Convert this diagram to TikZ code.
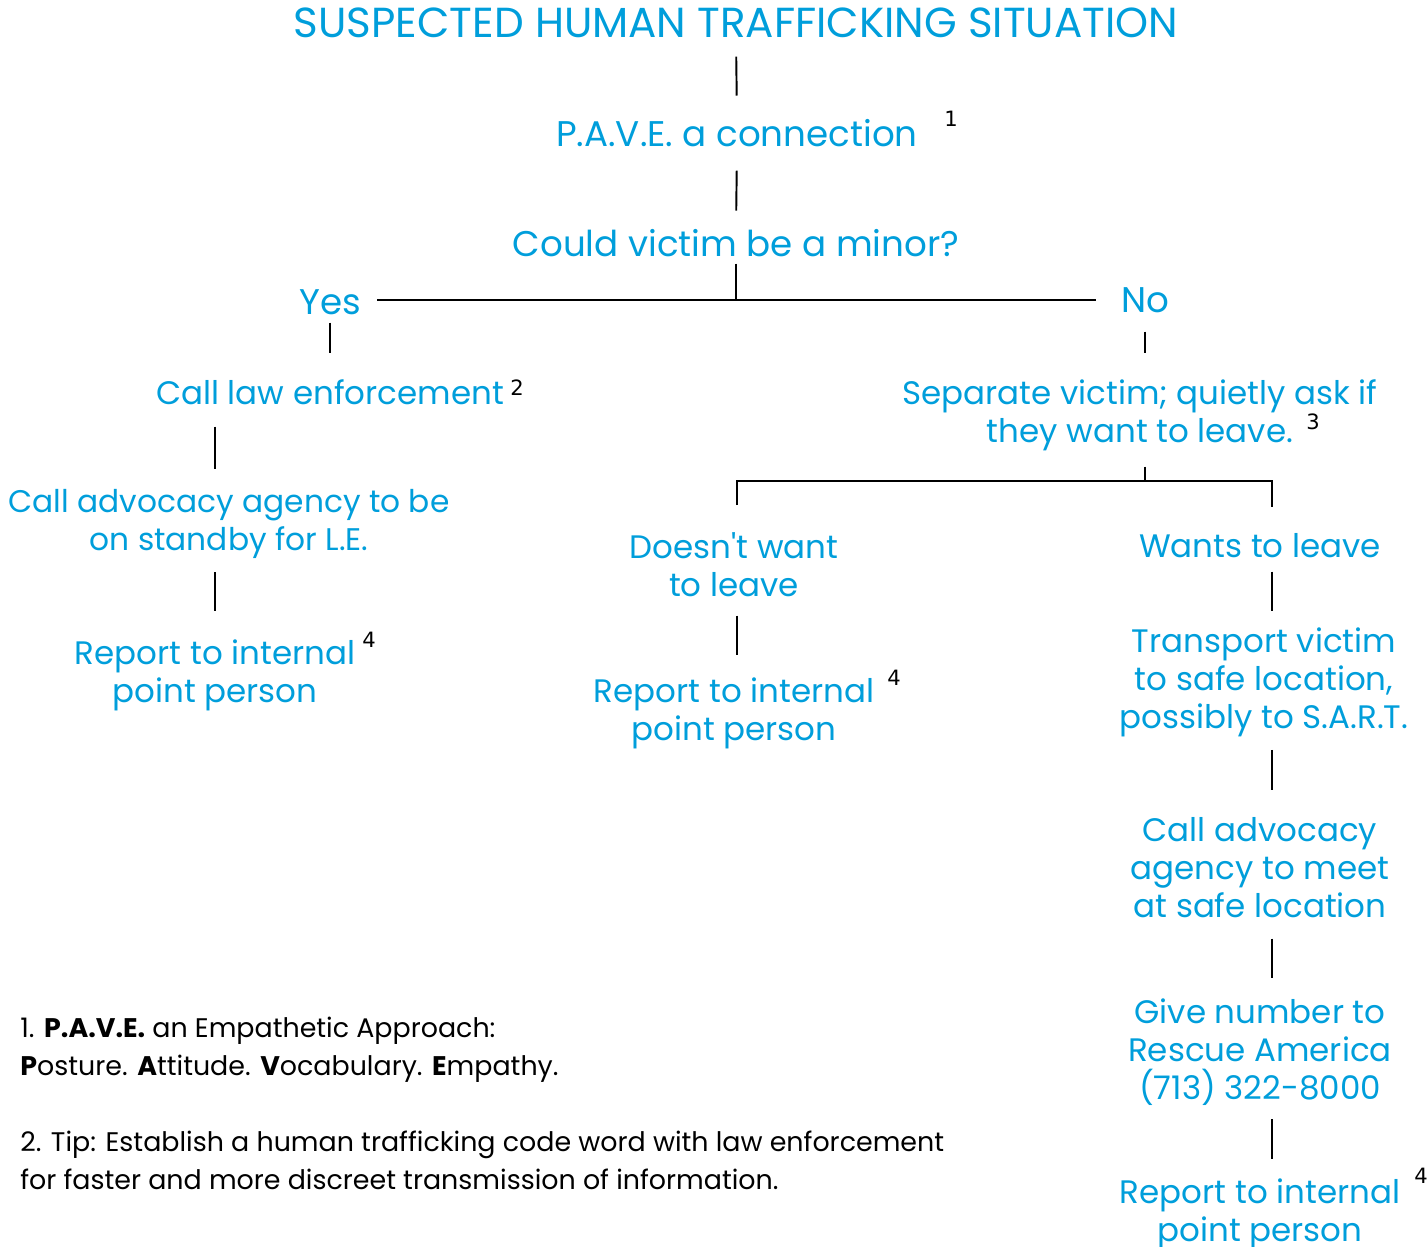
\documentclass[tikz,border=0pt]{standalone}
\usepackage{fontspec}
\setmainfont{Poppins}
\newfontfamily\supfont{DejaVu Sans}
\newdimen\unitpx \unitpx=0.02cm
\definecolor{rescueBlue}{RGB}{0,158,219}
\tikzset{
	flowText/.style={text=rescueBlue, font=\fontsize{18.5}{21.5}\selectfont, align=center, inner sep=0pt, anchor=base},
	bigText/.style={flowText, font=\fontsize{20.3}{24}\selectfont},
	headText/.style={flowText, font=\fontsize{23.9}{28}\selectfont},
	supText/.style={font=\supfont\fontsize{12}{14}\selectfont, inner sep=0pt, anchor=base},
	noteText/.style={font=\fontsize{15.3}{21.5}\selectfont, align=left, inner sep=0pt, anchor=base west},
	link/.style={line width=1.1pt}
}
\begin{document}
\begin{tikzpicture}[x=0.02cm, y=-0.02cm]
				\useasboundingbox (0,0) rectangle (1427,1247);
				\node[headText] (title) at (736,38) {SUSPECTED HUMAN TRAFFICKING SITUATION};
				\node[bigText] (pave) at (737,147) {P.A.V.E. a connection};
				\node[supText] (supPave) at (951,127) {1};
				\node[bigText] (minor) at (736,256) {Could victim be a minor?};
				\node[bigText] (yes) at (330,314) {Yes};
				\node[bigText] (no) at (1145,312) {No};
				
				% yes branch
				\node[flowText] (callLaw) at (330,404) {Call law enforcement};
				\node[supText] (supLaw) at (517,395) {2};
				\node[flowText, font=\fontsize{17.8}{21.5}\selectfont] (advStandby) at (229,550) {Call advocacy agency to be\\on standby for L.E.};
				\node[flowText] (reportYes) at (215,702) {Report to internal\\point person};
				\node[supText] (supYes) at (369,647) {4};
				
				% no branch
				\node[flowText] (separate) at (1140,442) {Separate victim; quietly ask if\\they want to leave.};
				\node[supText] (supSeparate) at (1313,429) {3};
				\coordinate (fork) at (1145,481);
				\coordinate (rightCol) at (1272,0);
				\node[flowText] (doesntLeave) at (734,596) {Doesn\textquotesingle t want\\to leave};
				\node[flowText] (reportStay) at (734,740) {Report to internal\\point person};
				\node[supText] (supStay) at (894,685) {4};
				\node[flowText] (wantsLeave) at (1260,557) {Wants to leave};
				\node[flowText] (transport) at (1264,728) {Transport victim\\to safe location,\\possibly to S.A.R.T.};
				\node[flowText] (advMeet) at (1260,917) {Call advocacy\\agency to meet\\at safe location};
				\node[flowText] (giveNumber) at (1260,1099) {Give number to\\Rescue America\\(713) 322-8000};
				\node[flowText] (reportLeave) at (1260,1241) {Report to internal\\point person};
				\node[supText] (supLeave) at (1421,1183) {4};
				
				% footnotes
				\node[noteText] (noteOne) at (20,1075) {1. \textbf{P.A.V.E.} an Empathetic Approach:\\\textbf{P}osture. \textbf{A}ttitude. \textbf{V}ocabulary. \textbf{E}mpathy.};
				\node[noteText] (noteTwo) at (20,1189) {2. Tip: Establish a human trafficking code word with law enforcement\\for faster and more discreet transmission of information.};
				
				\draw[link, shorten <=18\unitpx, shorten >=24\unitpx] (title.south) -- (pave.north);
				\draw[link, shorten <=23\unitpx, shorten >=18\unitpx] (pave.south) -- (minor.north);
				\draw[link, shorten <=7\unitpx] (minor.south) -- (minor.south |- no.west);
				\draw[link, shorten <=25\unitpx, shorten >=16\unitpx] (no.west) -- (no.west -| yes.east);
				\draw[link, shorten <=8\unitpx, shorten >=26\unitpx] (yes.south) -- (yes.south |- callLaw.north);
				\draw[link, shorten <=19\unitpx, shorten >=26\unitpx] (no.south) -- (no.south |- separate.north);
				\draw[link, shorten <=22\unitpx, shorten >=20\unitpx] (callLaw.south -| reportYes) -- (advStandby.north -| reportYes);
				\draw[link, shorten <=14\unitpx, shorten >=28\unitpx] (advStandby.south -| reportYes) -- (reportYes.north);
				\draw[link, shorten <=16\unitpx] (separate.south -| fork) -- (fork);
				\draw[link, shorten <=27\unitpx, shorten >=26\unitpx] ([xshift=3\unitpx]doesntLeave.north) |- (fork) -| (wantsLeave.north -| rightCol);
				\draw[link, shorten <=19\unitpx, shorten >=22\unitpx] ([xshift=3\unitpx]doesntLeave.south) -- ([xshift=3\unitpx]reportStay.north);
				\draw[link, shorten <=14\unitpx, shorten >=16\unitpx] (wantsLeave.south -| rightCol) -- (transport.north -| rightCol);
				\draw[link, shorten <=13\unitpx, shorten >=27\unitpx] (transport.south -| rightCol) -- (advMeet.north -| rightCol);
				\draw[link, shorten <=21\unitpx, shorten >=20\unitpx] (advMeet.south -| rightCol) -- (giveNumber.north -| rightCol);
				\draw[link, shorten <=14\unitpx, shorten >=19\unitpx] (giveNumber.south -| rightCol) -- (reportLeave.north -| rightCol);
				
			\end{tikzpicture}
\end{document}
